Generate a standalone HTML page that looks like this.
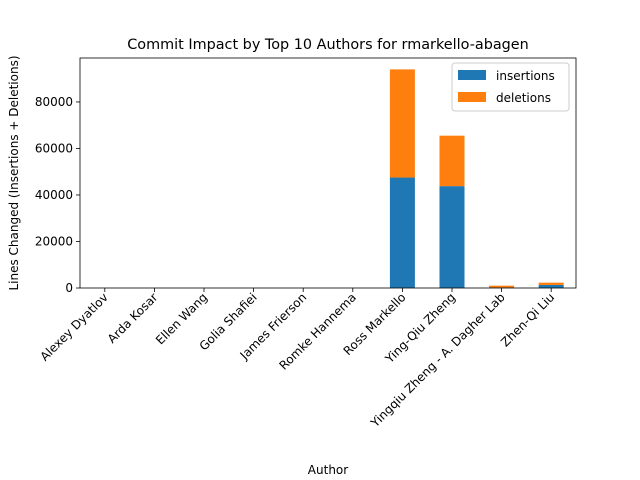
<!DOCTYPE html>
<html><head><meta charset="utf-8"><style>body{margin:0;background:#fff}svg{display:block;font-family:"DejaVu Sans","Liberation Sans",sans-serif}</style></head>
<body>
<svg id="chart" width="640" height="480"></svg>
<script>
const categories=["Alexey Dyatlov","Arda Kosar","Ellen Wang","Golia Shafiei","James Frierson","Romke Hannema","Ross Markello","Ying-Qiu Zheng","Yingqiu Zheng - A. Dagher Lab","Zhen-Qi Liu"];
const insertions=[0,0,0,0,0,0,47500,43800,200,1300];
const deletions=[0,0,0,0,0,0,46500,21700,800,1000];
const yTicks=[0,20000,40000,60000,80000];
const NS="http://www.w3.org/2000/svg";
const svg=document.getElementById('chart');
const L=80,R=576,T=58,B=288,YMAX=98900;
const y=v=>B-(v/YMAX)*(B-T);
const step=(R-L)/categories.length;
const x=i=>L+step*(i+0.5);
function mk(t,a,txt){const e=document.createElementNS(NS,t);for(const k in a)e.setAttribute(k,a[k]);if(txt!==undefined)e.textContent=txt;svg.appendChild(e);return e;}
categories.forEach((c,i)=>{
 const w=25;
 const b1=mk('rect',{x:x(i)-w/2,y:y(insertions[i]),width:w,height:B-y(insertions[i]),fill:'#1f77b4'});
 
 
 const b2=mk('rect',{x:x(i)-w/2,y:y(insertions[i]+deletions[i]),width:w,height:y(insertions[i])-y(insertions[i]+deletions[i]),fill:'#ff7f0e'});
 
 
 mk('line',{x1:x(i),x2:x(i),y1:B,y2:B+4,stroke:'#000','stroke-width':0.8});
 const t=mk('text',{x:x(i)+4,y:B+10,'font-size':12,'text-anchor':'end',transform:`rotate(-45 ${x(i)+4} ${B+10})`},c);
 
 
});
yTicks.forEach(v=>{
 mk('line',{x1:L-4,x2:L,y1:y(v),y2:y(v),stroke:'#000','stroke-width':0.8});
 const t=mk('text',{x:L-7,y:y(v)+4,'font-size':12,'text-anchor':'end'},String(v));
 
 
});
const ax=mk('rect',{x:L,y:T,width:R-L,height:B-T,fill:'none',stroke:'#000','stroke-width':0.8});


const ti=mk('text',{x:(L+R)/2,y:49,'font-size':14.4,'text-anchor':'middle'},'Commit Impact by Top 10 Authors for rmarkello-abagen');


const xt=mk('text',{x:(L+R)/2,y:474,'font-size':12,'text-anchor':'middle'},'Author');


const yt=mk('text',{x:18,y:(T+B)/2,'font-size':12,'text-anchor':'middle',transform:`rotate(-90 18 ${(T+B)/2})`},'Lines Changed (Insertions + Deletions)');


const lg=mk('rect',{x:452,y:63,width:117,height:48,fill:'#fff',stroke:'#ccc',rx:3});


mk('rect',{x:458,y:70,width:28,height:10,fill:'#1f77b4'});
const l1=mk('text',{x:496,y:80,'font-size':12},'insertions');


mk('rect',{x:458,y:92,width:28,height:10,fill:'#ff7f0e'});
const l2=mk('text',{x:496,y:102,'font-size':12},'deletions');


</script>
</body></html>
